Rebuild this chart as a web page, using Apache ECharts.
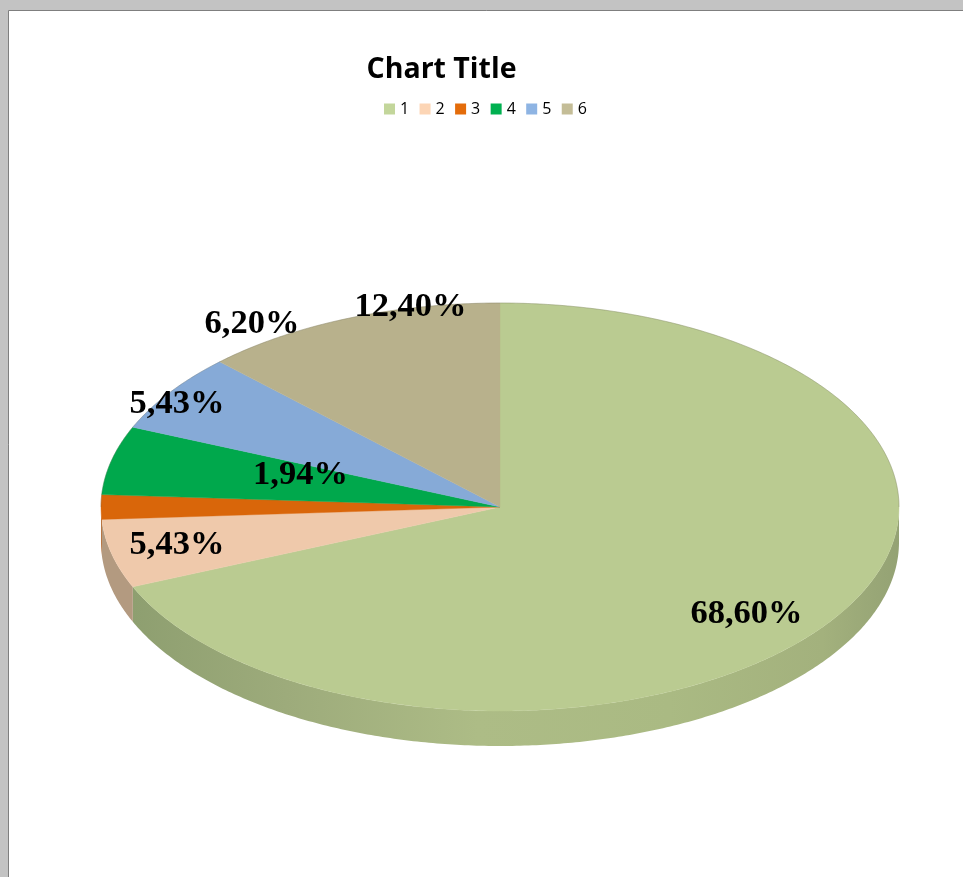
<!DOCTYPE html>
<html>
<head>
<meta charset="utf-8">
<style>html,body{margin:0;padding:0;background:#fff}#c{width:963px;height:877px}</style>
<script src="https://cdn.jsdelivr.net/npm/echarts@6/dist/echarts.min.js"></script>
</head>
<body>
<div id="c"></div>
<script>
const categories = ['1', '2', '3', '4', '5', '6'];
const percents = [68.60, 5.43, 1.94, 5.43, 6.20, 12.40];

const legendColors = ['#c3d69b', '#fcd5b5', '#e46c0a', '#00b050', '#8eb4e3', '#c4bd97'];
const topColors = ['#bacb91', '#efc9ab', '#d9660a', '#00a84c', '#86aad7', '#b8b18c'];
const wallColors = ['#a5b47f', '#b39a80', '#a8500c', '#008a3e', '#6f8cb0', '#989274'];
const labelCentres = [[746.5, 614], [177, 545], [300.5, 475], [177, 404], [252, 324], [410.5, 307]];

const CX = 500, CY = 507, RX = 399, RY = 204, DEPTH = 35;
const total = percents.reduce((a, b) => a + b, 0);
const starts = [];
percents.reduce((acc, v, i) => { starts[i] = acc; return acc + v; }, 0);
const toAngle = v => v / total * Math.PI * 2;
const rim = (a, dy) => [CX + RX * Math.sin(a), CY - RY * Math.cos(a) + (dy || 0)];

function arcPoints(a0, a1, dy) {
  const n = Math.max(2, Math.ceil((a1 - a0) / 0.01));
  const pts = [];
  for (let i = 0; i <= n; i++) pts.push(rim(a0 + (a1 - a0) * i / n, dy));
  return pts;
}

const wallGradient = new echarts.graphic.LinearGradient(133, 0, 899, 0, [
  { offset: 0, color: '#8e9f70' },
  { offset: 0.2, color: '#9dab7b' },
  { offset: 0.45, color: '#adbc86' },
  { offset: 0.7, color: '#aaba83' },
  { offset: 0.9, color: '#a3b17d' },
  { offset: 1, color: '#94a274' }
], true);

function renderSlice(params, api) {
  const i = params.seriesIndex;
  const a0 = toAngle(starts[i]);
  const a1 = a0 + toAngle(api.value(0));
  const children = [];
  const w0 = Math.max(a0, Math.PI / 2), w1 = Math.min(a1, Math.PI * 1.5);
  if (w1 > w0) {
    const upper = arcPoints(w0, w1, 0);
    const lower = arcPoints(w0, w1, DEPTH).reverse();
    children.push({
      type: 'polygon',
      shape: { points: upper.concat(lower) },
      style: { fill: i === 0 ? wallGradient : wallColors[i], stroke: null }
    });
  }
  const top = arcPoints(a0, a1, 0);
  children.push({
    type: 'polygon',
    shape: { points: [[CX, CY]].concat(top) },
    style: { fill: topColors[i], stroke: topColors[i], lineWidth: 0.4 }
  });
  const backRanges = [[a0, Math.min(a1, Math.PI / 2)], [Math.max(a0, Math.PI * 1.5), a1]];
  backRanges.forEach(r => {
    if (r[1] > r[0]) children.push({
      type: 'polyline',
      shape: { points: arcPoints(r[0], r[1], 0) },
      style: { fill: null, stroke: 'rgba(85,85,65,0.35)', lineWidth: 0.7 }
    });
  });
  return { type: 'group', children };
}

function renderLabel(params, api) {
  const i = params.dataIndex;
  return {
    type: 'text',
    style: {
      text: api.value(0).toFixed(2).replace('.', ',') + '%',
      x: labelCentres[i][0], y: labelCentres[i][1],
      align: 'center', verticalAlign: 'middle',
      font: 'bold 34.5px "Liberation Serif"', fill: '#000'
    }
  };
}

const sliceSeries = categories.map((name, i) => ({
  type: 'custom',
  name,
  coordinateSystem: 'none',
  z: 2,
  silent: true,
  animation: false,
  itemStyle: { color: legendColors[i] },
  renderItem: renderSlice,
  data: [[percents[i]]]
}));

const labelSeries = {
  type: 'custom',
  name: 'labels',
  coordinateSystem: 'none',
  z: 5,
  silent: true,
  animation: false,
  renderItem: renderLabel,
  data: percents.map(v => [v])
};

const chart = echarts.init(document.getElementById('c'), null, { renderer: 'canvas' });
chart.setOption({
  animation: false,
  backgroundColor: '#c3c3c3',
  graphic: [{
    type: 'rect', z: 0,
    shape: { x: 8.5, y: 10.5, width: 960, height: 870 },
    style: { fill: '#fff', stroke: '#7f7f7f', lineWidth: 1 }
  }],
  title: {
    text: 'Chart Title',
    left: 436.5, top: 50, textAlign: 'center',
    textStyle: { fontFamily: '"Open Sans"', fontWeight: 'bold', fontSize: 28.5, color: '#000' }
  },
  legend: {
    data: categories,
    left: 379, top: 96,
    icon: 'rect',
    itemWidth: 11, itemHeight: 11, itemGap: 10.4,
    selectedMode: false,
    textStyle: { fontFamily: '"Open Sans"', fontSize: 16, color: '#000' }
  },
  series: sliceSeries.concat([labelSeries])
});
</script>
</body>
</html>
